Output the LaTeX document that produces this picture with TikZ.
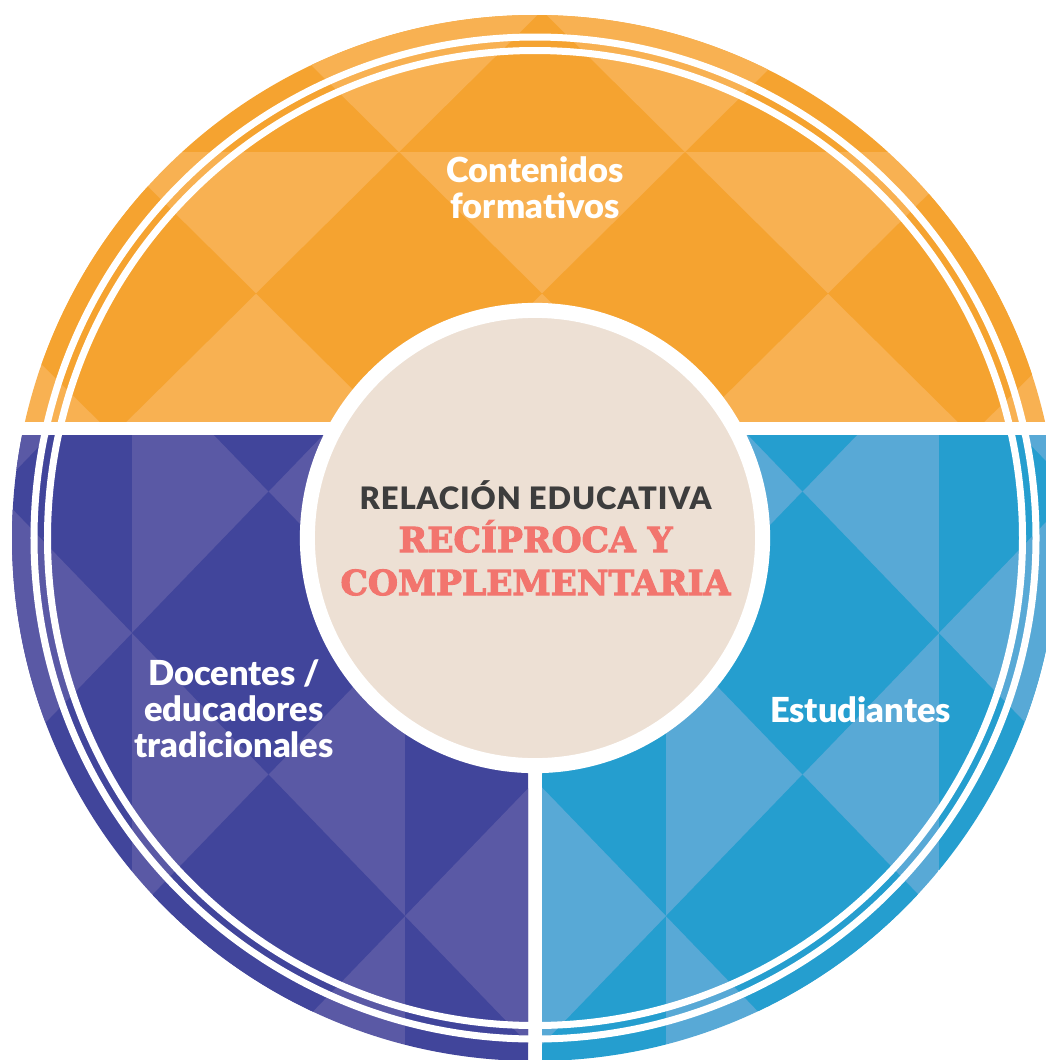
\documentclass[tikz,border=0pt]{standalone}
\usepackage{fontspec}
\setmainfont{Lato}[BoldFont={Lato Black}]
\newfontfamily\slab{DejaVu Serif}[BoldFeatures={FakeBold=3}]

\definecolor{naranja}{HTML}{F5A330}
\definecolor{naranjaclaro}{HTML}{F8B152}
\definecolor{morado}{HTML}{41459B}
\definecolor{moradoclaro}{HTML}{5A59A5}
\definecolor{azul}{HTML}{259ECF}
\definecolor{azulclaro}{HTML}{58A9D6}
\definecolor{beige}{HTML}{EDE0D4}
\definecolor{gris}{HTML}{3D3D3D}
\definecolor{coral}{HTML}{F2756E}

% one cell of the pattern: box in #5, the diamond inside it in #6
\newcommand{\celda}[6]{%
  \fill[#5] (#1,#2) rectangle ++(#3,#4);
  \fill[#6] ({#1+#3/2},#2) -- ++({#3/2},{#4/2}) -- ++({-#3/2},{#4/2})
    -- ++({-#3/2},{-#4/2}) -- cycle;}

\begin{document}
\begin{tikzpicture}[x=0.01cm, y=-0.01cm,
    anillo/.style={white, line width=0.07cm},
    etiqueta/.style={text=white, align=center, inner sep=0pt,
      font=\bfseries\fontsize{9.8}{10.25}\selectfont},
    titulo/.style={anchor=base, inner sep=0pt, text=gris,
      font=\bfseries\fontsize{8.8}{10}\selectfont\addfontfeature{LetterSpace=3}},
    lema/.style={anchor=base, inner sep=0pt, text=coral,
      font=\slab\bfseries\fontsize{9.8}{12}\selectfont}]

    \useasboundingbox (0,0) rectangle (1046,1060);
    \fill[white] (0,0) rectangle (1046,1060);

    % top segment, rows of diamonds
    \begin{scope}
      \clip (535,538) circle[radius=523];
      \clip (0,0) rectangle (1046,421);
      \foreach \x in {-30,256,542,828} {
        \celda{\x}{-131}{286}{283}{naranja}{naranjaclaro}
        \celda{\x}{152}{286}{283}{naranjaclaro}{naranja}
      }
    \end{scope}

    % lower left segment, columns of diamonds
    \begin{scope}
      \clip (535,538) circle[radius=523];
      \clip (0,435) rectangle (528,1070);
      \foreach \y in {208.5,491.5,774.5,1057.5} {
        \celda{-141}{\y}{273}{283}{morado}{moradoclaro}
        \celda{132}{\y}{273}{283}{moradoclaro}{morado}
        \celda{405}{\y}{273}{283}{morado}{moradoclaro}
      }
    \end{scope}

    % lower right segment
    \begin{scope}
      \clip (535,538) circle[radius=523];
      \clip (542,435) rectangle (1100,1070);
      \foreach \y in {208.5,491.5,774.5,1057.5} {
        \celda{393}{\y}{273}{283}{azul}{azulclaro}
        \celda{666}{\y}{273}{283}{azulclaro}{azul}
        \celda{939}{\y}{273}{283}{azul}{azulclaro}
      }
    \end{scope}

    % double ring
    \draw[anillo] (535,538) circle[radius=501];
    \draw[anillo] (535,538) circle[radius=487.5];

    \node[circle, fill=beige, draw=white, line width=0.15cm,
      minimum size=4.55cm, inner sep=0pt] (centro) at (535,538) {};
    \node[titulo] (relacion) at (535.5,509) {RELACIÓN EDUCATIVA};
    \node[lema] (reciproca) at (535.5,552) {RECÍPROCA Y};
    \node[lema] (complementaria) at (535.5,595) {COMPLEMENTARIA};

    \node[etiqueta] (contenidos) at (535,188) {Contenidos\\formativos};
    \node[etiqueta] (docentes) at (234,709) {Docentes /\\educadores\\tradicionales};
    \node[etiqueta] (estudiantes) at (860.5,710) {Estudiantes};

\end{tikzpicture}
\end{document}
